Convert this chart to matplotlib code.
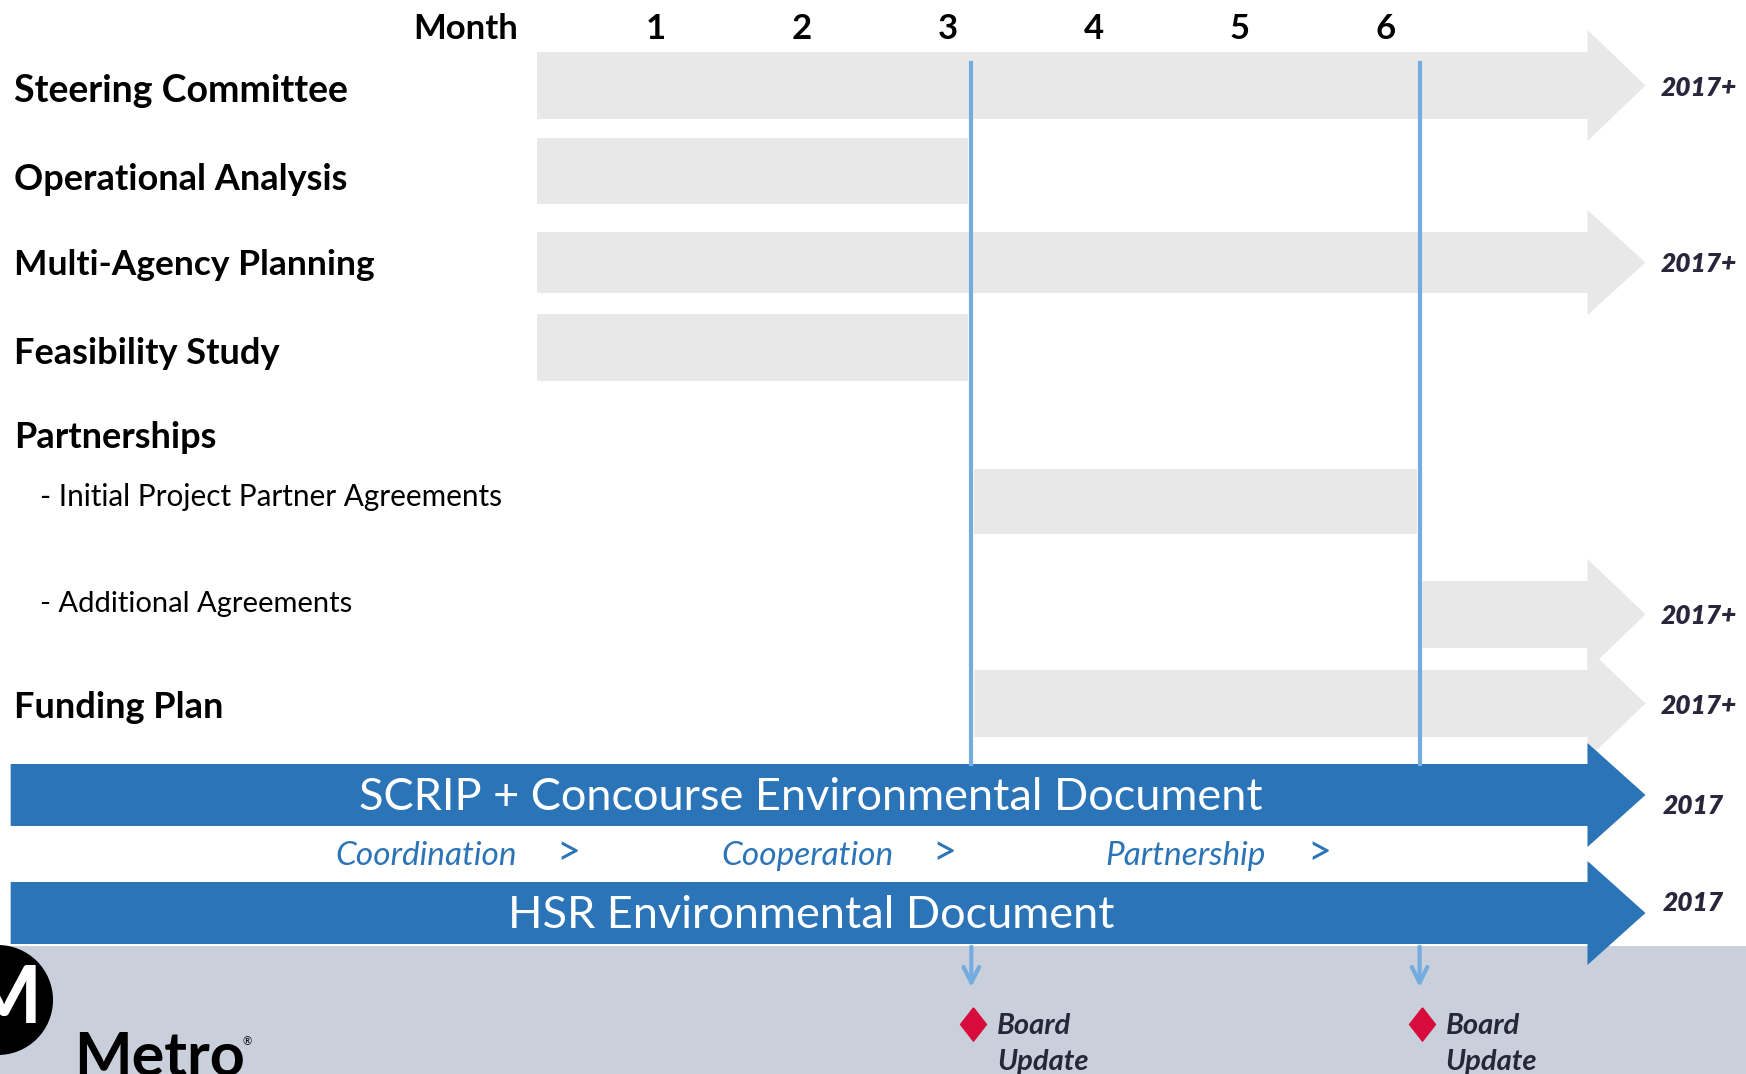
import matplotlib.pyplot as plt
from matplotlib.patches import Polygon, Rectangle, Ellipse
from matplotlib.path import Path

# task rows: label, start month, end month, arrow continues past chart
tasks = ["Steering Committee", "Operational Analysis", "Multi-Agency Planning",
         "Feasibility Study", "Initial Project Partner Agreements",
         "Additional Agreements", "Funding Plan"]
starts = [0.185, 0.185, 0.185, 0.185, 3.18, 6.25, 3.18]
ends = [7.38, 3.14, 7.38, 3.14, 6.21, 7.38, 7.38]
arrows = [True, False, True, False, False, True, True]
end_labels = ["2017+", "", "2017+", "", "", "2017+", "2017+"]

months = [1, 2, 3, 4, 5, 6]
board_updates = [3.16, 6.23]

docs = ["SCRIP + Concourse Environmental Document", "HSR Environmental Document"]
doc_start = -3.42
doc_end = 7.38
doc_labels = ["2017", "2017"]
phases = ["Coordination", "Cooperation", "Partnership"]

GRAY = "#e8e8e8"
BLUE = "#2b74b7"
LBLUE = "#74ace0"
DARK = "#27263a"
FONT = "Lato"

# layout (pixel rows, y grows downward)
row_y = [85.5, 171, 262.5, 347.5, 501.5, 614.5, 703.5]
row_h = [67, 66, 61, 67, 65, 67, 67]
label_y = [91, 179, 265, 353, 497, 604, 707]
label_size = [27, 26, 25.5, 26, 21.4, 21, 26]
doc_y = [795, 913]
doc_h = 62
doc_label_y = [806, 903]


def mx(px):
    # pixel column -> month units
    return 1 + (px - 656) / 146


head_len = mx(1645) - mx(1587)

fig = plt.figure(figsize=(17.46, 10.74), dpi=100)
ax = fig.add_axes([0, 0, 1, 1])
ax.set_xlim(mx(0), mx(1746))
ax.set_ylim(1074, 0)
ax.axis("off")


def bar(x0, x1, yc, h, color, arrow, head_extra):
    top, bot = yc - h / 2, yc + h / 2
    if arrow:
        pts = [(x0, top), (x1, top), (x1, top - head_extra), (x1 + head_len, yc),
               (x1, bot + head_extra), (x1, bot), (x0, bot)]
    else:
        pts = [(x0, top), (x1, top), (x1, bot), (x0, bot)]
    ax.add_patch(Polygon(pts, closed=True, facecolor=color, edgecolor="none", zorder=2))


# footer band
ax.add_patch(Rectangle((mx(0), 946), mx(1746) - mx(0), 200, facecolor="#c9d0db",
                       edgecolor="none", zorder=1))

for i, t in enumerate(tasks):
    bar(starts[i], ends[i], row_y[i], row_h[i], GRAY, arrows[i], 22)
    if end_labels[i]:
        ax.text(mx(1661), row_y[i] + 2, end_labels[i], fontsize=19, fontweight="heavy",
                style="italic", color=DARK, family=FONT, va="center", zorder=5)

# row labels
for i, t in enumerate(tasks):
    if i in (4, 5):
        ax.text(mx(40), label_y[i], "- " + t, fontsize=label_size[i], family=FONT,
                va="center", color="black")
    else:
        ax.text(mx(14), label_y[i], t, fontsize=label_size[i], fontweight="bold",
                family=FONT, va="center", color="black")
ax.text(mx(14), 438, "Partnerships", fontsize=26, fontweight="bold", family=FONT,
        va="center", color="black")

# month header
ax.text(mx(518), 29, "Month", fontsize=25, fontweight="bold", family=FONT,
        ha="right", va="center")
for m in months:
    ax.text(m, 29, str(m), fontsize=25, fontweight="bold", family=FONT,
            ha="center", va="center")

# vertical milestone lines
for b in board_updates:
    ax.plot([b, b], [63, 764], color=LBLUE, lw=3, zorder=3)
    ax.annotate("", xy=(b, 990), xytext=(b, 944),
                arrowprops=dict(arrowstyle="->", color=LBLUE, lw=3,
                                mutation_scale=28), zorder=3)

# environmental documents
for i, d in enumerate(docs):
    bar(doc_start, doc_end, doc_y[i], doc_h, BLUE, True, 21)
    ax.text(mx(811), doc_y[i] + 2, d, fontsize=32.5, color="white", family=FONT,
            ha="center", va="center", zorder=5)
    ax.text(mx(1663), doc_label_y[i], doc_labels[i], fontsize=19, fontweight="heavy",
            style="italic", color=DARK, family=FONT, va="center", zorder=5)

phase_x = [426, 807, 1186]
arrow_x = [568, 944, 1319]
for p, px, ax_ in zip(phases, phase_x, arrow_x):
    ax.text(mx(px), 856, p, fontsize=24, style="italic", color=BLUE, family=FONT,
            ha="center", va="center")
    ax.text(mx(ax_), 853, ">", fontsize=30, color=BLUE, family=FONT,
            ha="center", va="center")

# board update markers
diamond = Path([(0, 1), (0.78, 0), (0, -1), (-0.78, 0), (0, 1)])
for b in board_updates:
    ax.plot(b + mx(973) - mx(971), 1024, marker=diamond, markersize=24,
            color="#d80c3c", zorder=4)
    ax.text(b + mx(997) - mx(971), 1026, "Board", fontsize=21, fontweight="bold",
            style="italic", color=DARK, family=FONT, va="center", zorder=5)
    ax.text(b + mx(997) - mx(971), 1062, "Update", fontsize=21, fontweight="bold",
            style="italic", color=DARK, family=FONT, va="center", zorder=5)

# metro logo
ax.add_patch(Ellipse((mx(-2), 1000), 2 * 55 / 146, 110, facecolor="black", zorder=4))
ax.text(mx(4), 1000, "M", fontsize=58, fontweight="bold", color="white",
        family=FONT, ha="center", va="center", zorder=5)
ax.text(mx(74), 1030, "Metro", fontsize=44, fontweight="bold", color="black",
        family=FONT, va="top", zorder=5)
ax.text(mx(242), 1042, "\u00ae", fontsize=8, color="black", family=FONT,
        va="center", zorder=5)

fig.savefig("out.png", dpi=100)
